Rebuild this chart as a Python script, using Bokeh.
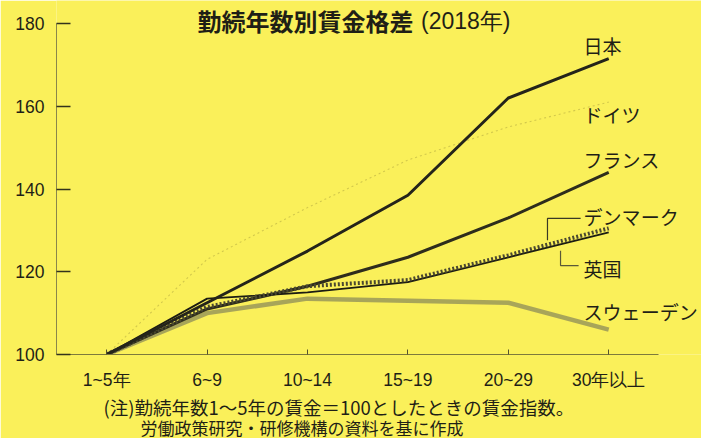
from bokeh.plotting import figure
from bokeh.models import Range1d, FixedTicker, Label, ColumnDataSource, Title
from bokeh.embed import file_html
from bokeh.resources import INLINE

# ---- data ----
categories = ["1~5年", "6~9", "10~14", "15~19", "20~29", "30年以上"]
japan   = [100, 112.5, 125.0, 138.5, 162.0, 171.5]
germany = [100, 123.0, 135.5, 147.0, 155.0, 161.0]
france  = [100, 111.0, 116.5, 123.5, 133.0, 144.0]
denmark = [100, 111.5, 116.5, 118.0, 124.0, 130.5]
uk      = [100, 113.5, 115.0, 117.5, 123.5, 129.5]
sweden  = [100, 110.0, 113.5, 113.0, 112.5, 106.0]
y_ticks = [100, 120, 140, 160, 180]

title_main = "勤続年数別賃金格差"
title_sub = "(2018年)"
note1 = "(注)勤続年数1～5年の賃金＝100としたときの賃金指数。"
note2 = "労働政策研究・研修機構の資料を基に作成"

BG = "#faf05a"
INK = "#1f1f16"
CJK = "Noto Sans CJK JP"

xs = list(range(len(categories)))
src = ColumnDataSource(dict(x=xs, japan=japan, germany=germany, france=france,
                            denmark=denmark, uk=uk, sweden=sweden))

p = figure(width=701, height=438, output_backend="svg", toolbar_location=None,
           x_range=Range1d(-0.5, 5.924), y_range=Range1d(100, 185.56),
           min_border_left=56, min_border_right=0, min_border_top=0,
           min_border_bottom=84)
p.background_fill_color = BG
p.border_fill_color = BG
p.outline_line_color = None
p.grid.visible = False

# axes
xa = p.xaxis[0]
xa.ticker = FixedTicker(ticks=xs)
xa.major_label_overrides = {i: c for i, c in enumerate(categories)}
xa.bounds = (-0.5, 5.5)
xa.axis_line_color = "#7d7a3c"
xa.axis_line_width = 1.2
xa.major_tick_in = 5
xa.major_tick_out = 0
xa.major_tick_line_color = "#55532c"
xa.minor_tick_line_color = None
xa.major_label_standoff = 15
xa.major_label_text_font = "Liberation Sans"
xa.major_label_text_font_size = "17.5px"
xa.major_label_text_color = INK

ya = p.yaxis[0]
ya.ticker = FixedTicker(ticks=y_ticks)
ya.bounds = (100, 180)
ya.axis_line_color = "#8a864a"
ya.axis_line_width = 1
ya.major_tick_in = 14
ya.major_tick_out = 0
ya.major_tick_line_color = "#33321c"
ya.major_tick_line_width = 1.5
ya.minor_tick_line_color = None
ya.major_label_standoff = 12
ya.major_label_text_font = "Liberation Sans"
ya.major_label_text_font_size = "17.5px"
ya.major_label_text_color = INK

# lines
p.line("x", "germany", source=src, line_color="#d2c84c", line_width=1.1, line_dash="2 3")
p.line("x", "sweden", source=src, line_color="#a3a05a", line_width=4.5, line_alpha=0.95)
p.line("x", "france", source=src, line_color="#2e2d1c", line_width=3)
p.line("x", "uk", source=src, line_color="#1c1c12", line_width=1.8)
p.line("x", "denmark", source=src, line_color="#4a4830", line_width=4, line_dash="2 2")
p.line("x", "japan", source=src, line_color="#24241a", line_width=3)

# series labels
def lab(x, y, t, size="19px"):
    p.add_layout(Label(x=x, y=y, text=t, text_font=CJK, text_font_size=size,
                       text_color=INK, text_baseline="middle", text_align="left"))

lab(4.75, 174.7, "日本")
lab(4.75, 158.0, "ドイツ")
lab(4.75, 147.1, "フランス")
lab(4.75, 133.3, "デンマーク")
lab(4.75, 120.8, "英国")
lab(4.75, 110.4, "スウェーデン")

# brackets for Denmark / UK
p.line([4.39, 4.39, 4.72], [127.6, 132.9, 132.9], line_color="#3a3924", line_width=1.2)
p.line([4.52, 4.52, 4.70], [125.1, 121.5, 121.5], line_color="#5a5838", line_width=1.2)

# title
p.add_layout(Label(x=0.904, y=180.7, text=title_main, text_font=CJK, text_font_size="24px",
                   text_font_style="bold", text_color=INK, text_baseline="middle"))
p.add_layout(Label(x=3.13, y=180.7, text=title_sub, text_font="Liberation Sans",
                   text_font_size="23px", text_color=INK, text_baseline="middle"))

# notes (below panel)
p.add_layout(Title(text=note1, align="left", offset=47, standoff=-2, text_font=CJK,
                   text_font_size="18.5px", text_font_style="normal", text_color=INK), "below")
p.add_layout(Title(text=note2, align="left", offset=84, standoff=-12, text_font=CJK,
                   text_font_size="17px", text_font_style="normal", text_color=INK), "below")

open("out.html", "w").write(file_html(p, INLINE))
